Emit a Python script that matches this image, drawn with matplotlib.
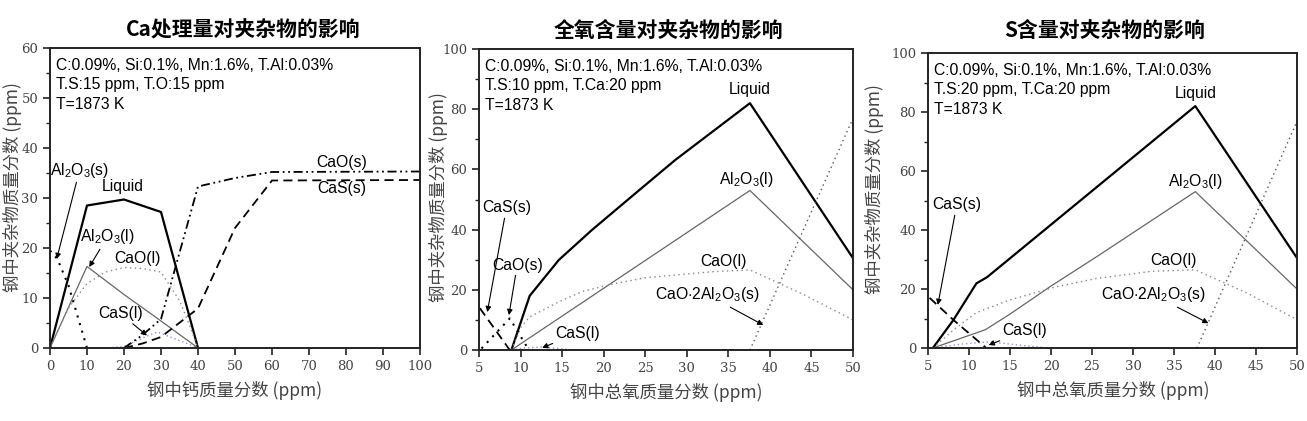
import numpy as np
import matplotlib
matplotlib.use('Agg')
import matplotlib.pyplot as plt
from matplotlib.transforms import offset_copy

plt.rcParams['font.family'] = ['Liberation Sans', 'Noto Sans CJK SC', 'DejaVu Sans']
plt.rcParams['mathtext.fontset'] = 'custom'
plt.rcParams['mathtext.rm'] = 'Liberation Sans'

# ---- panel 1: Ca addition (x = Ca, ppm) ----
ca_liq_x = [0, 10, 20, 30, 40]
ca_liq_y = [0, 28.5, 29.7, 27.2, 0]
ca_al2o3l_x = [0, 10, 20, 30, 40]
ca_al2o3l_y = [0, 16.3, 10.7, 5.4, 0]
ca_caol_x = [0, 5, 10, 15, 20, 25, 30, 35, 38, 40]
ca_caol_y = [0, 8.0, 12.9, 15.2, 16.1, 15.9, 15.2, 9.5, 4.0, 0]
ca_casl_x = [10, 15, 20, 25, 29, 35, 40]
ca_casl_y = [0, 0, 0.3, 2.0, 3.2, 1.5, 0]
ca_al2o3s_x = [0, 2, 5, 8, 10]
ca_al2o3s_y = [19.5, 17.8, 12.5, 5.0, 0]
ca_caos_x = [20, 25, 30, 40, 50, 60, 100]
ca_caos_y = [0, 2.6, 5.8, 32.3, 34.0, 35.2, 35.3]
ca_cass_x = [20, 25, 30, 40, 50, 60, 100]
ca_cass_y = [0, 0.9, 2.2, 7.9, 24.0, 33.5, 33.6]

# ---- panel 2: total oxygen, T.S 10 ppm (x = T.O, ppm) ----
o_liq_x = [8.9, 11.1, 14.6, 18.6, 23.8, 28.6, 37.6, 50]
o_liq_y = [0, 18.0, 29.9, 39.9, 52.0, 63.1, 82.0, 30.5]
o_al2o3l_x = [8.9, 37.6, 50]
o_al2o3l_y = [0, 53.0, 20.0]
o_caol_x = [8.9, 10.1, 11.1, 14.6, 17.5, 21.4, 25, 28.6, 33, 37.6, 44, 50]
o_caol_y = [0, 7.8, 11.0, 16.0, 19.5, 22.1, 24.0, 24.9, 26.0, 26.6, 18.5, 10.0]
o_casl_x = [8.9, 10.5, 12.5, 14.5, 16.5]
o_casl_y = [0, 0.7, 1.0, 0.5, 0]
o_cass_x = [5.1, 8.7]
o_cass_y = [13.9, 0]
o_caos_x = [5.3, 8.7, 11.0]
o_caos_y = [0.5, 10.5, 0]
o_ca2_x = [37.6, 50]
o_ca2_y = [0, 77.0]

# ---- panel 3: total oxygen, T.S 20 ppm (x = T.O, ppm) ----
s_liq_x = [5.6, 8.1, 10.9, 12.2, 37.6, 50]
s_liq_y = [0, 9.5, 21.9, 24.0, 82.0, 30.5]
s_al2o3l_x = [5.6, 12.0, 15.0, 20.0, 25.6, 37.6, 50]
s_al2o3l_y = [0, 6.2, 11.5, 21.0, 31.0, 53.0, 20.0]
s_caol_x = [5.6, 8.1, 10.9, 15.0, 20.7, 25.6, 32.3, 37.6, 44, 50]
s_caol_y = [0, 6.1, 12.0, 16.3, 20.8, 23.6, 26.0, 26.5, 18.5, 9.6]
s_casl_x = [5.6, 9, 12.6, 16, 19.1]
s_casl_y = [0, 1.3, 2.1, 1.0, 0.2]
s_cass_x = [5.2, 8.1, 12.1]
s_cass_y = [17.0, 9.5, 0]
s_ca2_x = [37.8, 50]
s_ca2_y = [0, 76.8]

titles = ['Ca处理量对夹杂物的影响', '全氧含量对夹杂物的影响', 'S含量对夹杂物的影响']
info = [['C:0.09%, Si:0.1%, Mn:1.6%, T.Al:0.03%', 'T.S:15 ppm, T.O:15 ppm', 'T=1873 K'],
        ['C:0.09%, Si:0.1%, Mn:1.6%, T.Al:0.03%', 'T.S:10 ppm, T.Ca:20 ppm', 'T=1873 K'],
        ['C:0.09%, Si:0.1%, Mn:1.6%, T.Al:0.03%', 'T.S:20 ppm, T.Ca:20 ppm', 'T=1873 K']]
xlabels = ['钢中钙质量分数 (ppm)', '钢中总氧质量分数 (ppm)', '钢中总氧质量分数 (ppm)']
ylabel = '钢中夹杂物质量分数 (ppm)'

AL2O3S = r'Al$_\mathregular{2}$O$_\mathregular{3}$(s)'
AL2O3L = r'Al$_\mathregular{2}$O$_\mathregular{3}$(l)'
CA2 = r'CaO$\cdot$2Al$_\mathregular{2}$O$_\mathregular{3}$(s)'

W, H = 1307, 421
fig = plt.figure(figsize=(W / 100, H / 100), dpi=100)
boxes = [(50, 48, 420, 348), (479, 49, 853, 350), (928, 53, 1297, 348)]
axs = []
for (l, t, r, b) in boxes:
    axs.append(fig.add_axes([l / W, 1 - b / H, (r - l) / W, (b - t) / H]))

st_liq = dict(color='black', lw=1.6)
st_al2o3l = dict(color='#666666', lw=0.9)
st_caol = dict(color='#888888', lw=1.0, ls=(0, (1, 2.5)))
st_casl = dict(color='#9a8cc8', lw=1.0, ls=(0, (1, 2)))
st_dots = dict(color='black', lw=1.5, ls=(0, (1, 2.8)))
st_dashdot = dict(color='black', lw=1.3, ls=(0, (5, 2, 1, 2, 1, 2)))
st_dash = dict(color='black', lw=1.3, ls=(0, (5, 3)))
st_ca2 = dict(color='#555555', lw=1.0, ls=(0, (1, 2.5)))

tfs = 11.3
arr = dict(arrowstyle='-|>', color='black', lw=0.8, mutation_scale=8, shrinkA=0, shrinkB=0)

# panel 1
ax = axs[0]
ax.plot(ca_liq_x, ca_liq_y, **st_liq)
ax.plot(ca_al2o3l_x, ca_al2o3l_y, **st_al2o3l)
ax.plot(ca_caol_x, ca_caol_y, **st_caol)
ax.plot(ca_casl_x, ca_casl_y, **st_casl)
ax.plot(ca_al2o3s_x, ca_al2o3s_y, **st_dots)
ax.plot(ca_caos_x, ca_caos_y, **st_dashdot)
ax.plot(ca_cass_x, ca_cass_y, **st_dash)
ax.set_xlim(0, 100)
ax.set_ylim(0, 60)
ax.set_xticks(np.arange(0, 101, 10))
ax.set_yticks(np.arange(0, 61, 10))
ax.set_yticks(np.arange(5, 60, 10), minor=True)
ax.text(19.7, 32.4, 'Liquid', fontsize=tfs, ha='center', va='center')
ax.text(23.6, 17.9, 'CaO(l)', fontsize=tfs, ha='center', va='center')
ax.text(78.9, 37.2, 'CaO(s)', fontsize=tfs, ha='center', va='center')
ax.text(78.9, 31.9, 'CaS(s)', fontsize=tfs, ha='center', va='center')
ax.annotate(AL2O3S, xy=(1.8, 17.8), xytext=(8.0, 35.6), fontsize=tfs, ha='center', va='center', arrowprops=arr)
ax.annotate(AL2O3L, xy=(10.6, 16.2), xytext=(15.5, 22.2), fontsize=tfs, ha='center', va='center', arrowprops=arr)
ax.annotate('CaS(l)', xy=(26.2, 2.5), xytext=(19.0, 6.9), fontsize=tfs, ha='center', va='center', arrowprops=arr)

# panel 2
ax = axs[1]
ax.plot(o_liq_x, o_liq_y, **st_liq)
ax.plot(o_al2o3l_x, o_al2o3l_y, **st_al2o3l)
ax.plot(o_caol_x, o_caol_y, **st_caol)
ax.plot(o_casl_x, o_casl_y, **st_casl)
ax.plot(o_cass_x, o_cass_y, **st_dash)
ax.plot(o_caos_x, o_caos_y, **st_dots)
ax.plot(o_ca2_x, o_ca2_y, **st_ca2)
ax.set_xlim(5, 50)
ax.set_ylim(0, 100)
ax.set_xticks(np.arange(5, 51, 5))
ax.set_yticks(np.arange(0, 101, 20))
ax.set_yticks(np.arange(10, 100, 20), minor=True)
ax.text(37.6, 86.5, 'Liquid', fontsize=tfs, ha='center', va='center')
ax.text(37.2, 56.5, AL2O3L, fontsize=tfs, ha='center', va='center')
ax.text(34.4, 29.3, 'CaO(l)', fontsize=tfs, ha='center', va='center')
ax.annotate(CA2, xy=(39.2, 8.3), xytext=(32.5, 18.3), fontsize=tfs, ha='center', va='center', arrowprops=arr)
ax.annotate('CaS(s)', xy=(6.0, 12.6), xytext=(8.3, 47.2), fontsize=tfs, ha='center', va='center', arrowprops=arr)
ax.annotate('CaO(s)', xy=(8.6, 11.6), xytext=(9.6, 28.2), fontsize=tfs, ha='center', va='center', arrowprops=arr)
ax.annotate('CaS(l)', xy=(12.6, 0.7), xytext=(16.8, 5.6), fontsize=tfs, ha='center', va='center', arrowprops=arr)

# panel 3
ax = axs[2]
ax.plot(s_liq_x, s_liq_y, **st_liq)
ax.plot(s_al2o3l_x, s_al2o3l_y, **st_al2o3l)
ax.plot(s_caol_x, s_caol_y, **st_caol)
ax.plot(s_casl_x, s_casl_y, **st_casl)
ax.plot(s_cass_x, s_cass_y, **st_dash)
ax.plot(s_ca2_x, s_ca2_y, **st_ca2)
ax.set_xlim(5, 50)
ax.set_ylim(0, 100)
ax.set_xticks(np.arange(5, 51, 5))
ax.set_yticks(np.arange(0, 101, 20))
ax.set_yticks(np.arange(10, 100, 20), minor=True)
ax.text(37.6, 86.2, 'Liquid', fontsize=tfs, ha='center', va='center')
ax.text(37.6, 56.5, AL2O3L, fontsize=tfs, ha='center', va='center')
ax.text(34.9, 29.8, 'CaO(l)', fontsize=tfs, ha='center', va='center')
ax.annotate(CA2, xy=(39.2, 8.4), xytext=(32.5, 18.0), fontsize=tfs, ha='center', va='center', arrowprops=arr)
ax.annotate('CaS(s)', xy=(6.2, 14.6), xytext=(8.5, 48.5), fontsize=tfs, ha='center', va='center', arrowprops=arr)
ax.annotate('CaS(l)', xy=(12.4, 1.0), xytext=(16.8, 5.8), fontsize=tfs, ha='center', va='center', arrowprops=arr)

title_x = [243, 668, 1105]
xlab_pos = [(235, 390), (666, 393), (1113, 390)]
ylab_pos = [(13, 187), (439, 197), (874, 189)]
for i, ax in enumerate(axs):
    for sp in ax.spines.values():
        sp.set_linewidth(1.4)
        sp.set_color('#222222')
    ax.tick_params(which='major', direction='out', length=5, width=1.2, color='#222222',
                   labelsize=9.5, labelcolor='#444444')
    ax.tick_params(which='minor', direction='out', length=3, width=1.0, color='#222222')
    for lab in ax.get_xticklabels() + ax.get_yticklabels():
        lab.set_family('DejaVu Serif')
    # info block, one text per line (about 19.5 px apart)
    for k, line in enumerate(info[i]):
        tr = offset_copy(ax.transAxes, fig=fig, x=0, y=-14.2 * k - 7, units='points')
        ax.text(0.016, 1.0, line, transform=tr, fontsize=tfs, ha='left', va='top')
    fig.text(title_x[i] / W, 1 - 30 / H, titles[i], fontsize=15, fontweight='bold',
             family=['Noto Sans CJK SC', 'DejaVu Sans'], ha='center', va='center')
    fig.text(xlab_pos[i][0] / W, 1 - xlab_pos[i][1] / H, xlabels[i], fontsize=12.5, color='#444444',
             family=['Noto Sans CJK SC', 'DejaVu Sans'], ha='center', va='center')
    fig.text(ylab_pos[i][0] / W, 1 - ylab_pos[i][1] / H, ylabel, fontsize=12.5, color='#444444',
             family=['Noto Sans CJK SC', 'DejaVu Sans'], ha='center', va='center', rotation=90)

fig.savefig('out.png', dpi=100)
